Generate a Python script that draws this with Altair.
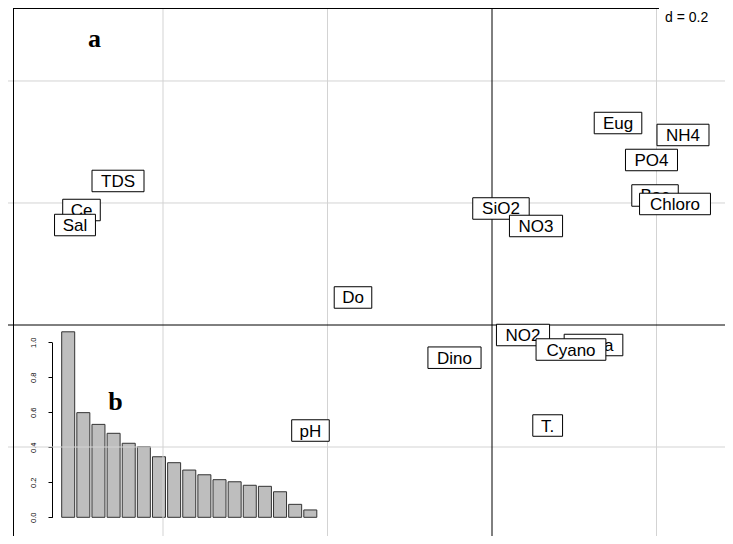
import altair as alt
import pandas as pd

# ---------------- data ----------------
labels = ["TDS", "Ce", "SiO2", "NO3", "Eug", "NH4", "PO4", "Bac", "Do",
          "NO2", "Chl a", "Dino", "T.", "pH", "Sal", "Chloro", "Cyano"]
lab_x = [-0.4547, -0.4991, 0.0109, 0.0535, 0.1532, 0.2322, 0.1939, 0.1982, -0.1690,
         0.0377, 0.1234, -0.0456, 0.0677, -0.2207, -0.5070, 0.2225, 0.0960]
lab_y = [0.2361, 0.1885, 0.1910, 0.1623, 0.3311, 0.3115, 0.2705, 0.2123, 0.0451,
         -0.0164, -0.0328, -0.0536, -0.1648, -0.1730, 0.1639, 0.1984, -0.0402]
n_top = 3  # last labels drawn on top of the others

grid_x = [-0.4, -0.2, 0.2]
grid_y = [-0.2, 0.2, 0.4]

eig_rank = list(range(1, 18))
eig_values = [1.06, 0.598, 0.531, 0.48, 0.423, 0.403, 0.346, 0.312, 0.27,
              0.243, 0.215, 0.203, 0.183, 0.177, 0.146, 0.074, 0.042]
eig_ticks = [0.0, 0.2, 0.4, 0.6, 0.8, 1.0]

scale_text = "d = 0.2"

# ---------------- layout ----------------
W, H = 717, 528
X_DOMAIN = [-0.58845, 0.28328]
Y_DOMAIN = [-0.34590, 0.51967]
PX_X = W / (X_DOMAIN[1] - X_DOMAIN[0])
PX_Y = H / (Y_DOMAIN[1] - Y_DOMAIN[0])

AW = {"A": 667, "B": 667, "C": 722, "D": 722, "E": 667, "H": 722, "N": 722,
      "O": 778, "P": 667, "S": 667, "T": 611, "a": 556, "b": 556, "c": 500,
      "d": 556, "g": 556, "h": 556, "i": 222, "l": 222, "n": 556, "o": 556,
      "p": 556, "r": 333, "u": 556, "y": 500, " ": 278, ".": 278}


def box_width(s):
    return sum(AW.get(c, 556) for c in s) / 1000 * 20 + 12


BOX_H = 21.5

lab = pd.DataFrame({"label": labels, "x": lab_x, "y": lab_y})
lab["hw"] = lab["label"].map(box_width) / 2 / PX_X
lab["x1"] = lab["x"] - lab["hw"]
lab["x2"] = lab["x"] + lab["hw"]
lab["y1"] = lab["y"] - BOX_H / 2 / PX_Y
lab["y2"] = lab["y"] + BOX_H / 2 / PX_Y
lab_bottom = lab.iloc[: len(lab) - n_top]
lab_top = lab.iloc[len(lab) - n_top:]

xs = alt.Scale(domain=X_DOMAIN, nice=False, zero=False)
ys = alt.Scale(domain=Y_DOMAIN, nice=False, zero=False)

# ---------------- inset eigenvalue barplot ----------------
eig = pd.DataFrame({"k": eig_rank, "v": eig_values})
bars = alt.Chart(eig).mark_bar(size=13, fill="#BEBEBE", stroke="#333333", strokeWidth=1).encode(
    x=alt.X("k:Q", scale=alt.Scale(domain=[1, 17], range=[60.2, 302.3], nice=False, zero=False, padding=0),
            axis=None),
    y=alt.Y("v:Q", scale=alt.Scale(domain=[0, 1], range=[509.3, 334.3], nice=False, zero=True),
            axis=alt.Axis(orient="left", offset=-44, values=eig_ticks, format=".1f", tickSize=4,
                          labelAngle=270, labelAlign="center", labelBaseline="middle",
                          labelPadding=15, labelFontSize=7.5, labelFont="Liberation Sans",
                          labelColor="black", tickColor="black", domainColor="black",
                          grid=False, title=None, labelOverlap=False)),
)

# ---------------- grid ----------------
gx = alt.Chart(pd.DataFrame({"g": grid_x})).mark_rule(color="#D3D3D3", strokeWidth=1).encode(
    x=alt.X("g:Q", scale=xs, axis=None))
gy = alt.Chart(pd.DataFrame({"g": grid_y})).mark_rule(color="#D3D3D3", strokeWidth=1).encode(
    y=alt.Y("g:Q", scale=ys, axis=None))
ox = alt.Chart(pd.DataFrame({"g": [0.0]})).mark_rule(color="black", strokeWidth=1).encode(
    x=alt.X("g:Q", scale=xs, axis=None))
oy = alt.Chart(pd.DataFrame({"g": [0.0]})).mark_rule(color="black", strokeWidth=1).encode(
    y=alt.Y("g:Q", scale=ys, axis=None))

frame_left = alt.Chart(pd.DataFrame({"a": [0]})).mark_rule(color="black", strokeWidth=1).encode(
    x=alt.value(5.5))
frame_top = alt.Chart(pd.DataFrame({"a": [0]})).mark_rule(color="black", strokeWidth=1).encode(
    x=alt.value(5.5), x2=alt.value(W), y=alt.value(0.5))

# ---------------- "d = 0.2" ----------------
dbox = alt.Chart(pd.DataFrame({"x1": [0.2030], "x2": [X_DOMAIN[1]], "y1": [0.4910], "y2": [Y_DOMAIN[1]]})).mark_rect(
    fill="white", stroke=None).encode(
    x=alt.X("x1:Q", scale=xs, axis=None), x2="x2:Q",
    y=alt.Y("y1:Q", scale=ys, axis=None), y2="y2:Q")
dtext = alt.Chart(pd.DataFrame({"x": [0.2103], "y": [0.4975], "t": [scale_text]})).mark_text(
    font="Liberation Sans", fontSize=14, color="black", align="left", baseline="alphabetic").encode(
    x=alt.X("x:Q", scale=xs, axis=None), y=alt.Y("y:Q", scale=ys, axis=None), text="t:N")


# ---------------- labels ----------------
def label_layers(df):
    r = alt.Chart(df).mark_rect(fill="white", stroke="black", strokeWidth=1).encode(
        x=alt.X("x1:Q", scale=xs, axis=None), x2="x2:Q",
        y=alt.Y("y1:Q", scale=ys, axis=None), y2="y2:Q")
    t = alt.Chart(df).mark_text(font="Liberation Sans", fontSize=17, color="black",
                                align="center", baseline="middle", dy=1).encode(
        x=alt.X("x:Q", scale=xs, axis=None), y=alt.Y("y:Q", scale=ys, axis=None), text="label:N")
    return [r, t]


panel = pd.DataFrame({"t": ["a", "b"], "x": [-0.4833, -0.4578], "y": [0.4562, -0.1393]})
panel_text = alt.Chart(panel).mark_text(font="Liberation Serif", fontWeight="bold", fontSize=26,
                                        color="black", align="center", baseline="alphabetic").encode(
    x=alt.X("x:Q", scale=xs, axis=None), y=alt.Y("y:Q", scale=ys, axis=None), text="t:N")

chart = alt.layer(
    bars, gx, gy, ox, oy, frame_left, frame_top, dbox, dtext,
    *label_layers(lab_bottom), *label_layers(lab_top), panel_text,
).resolve_scale(x="independent", y="independent").properties(
    width=W, height=H, padding=0, autosize=alt.AutoSizeParams(type="none"), background="white"
).configure_view(stroke=None)

chart.save("out.html", embed_options={"renderer": "svg", "actions": False})
